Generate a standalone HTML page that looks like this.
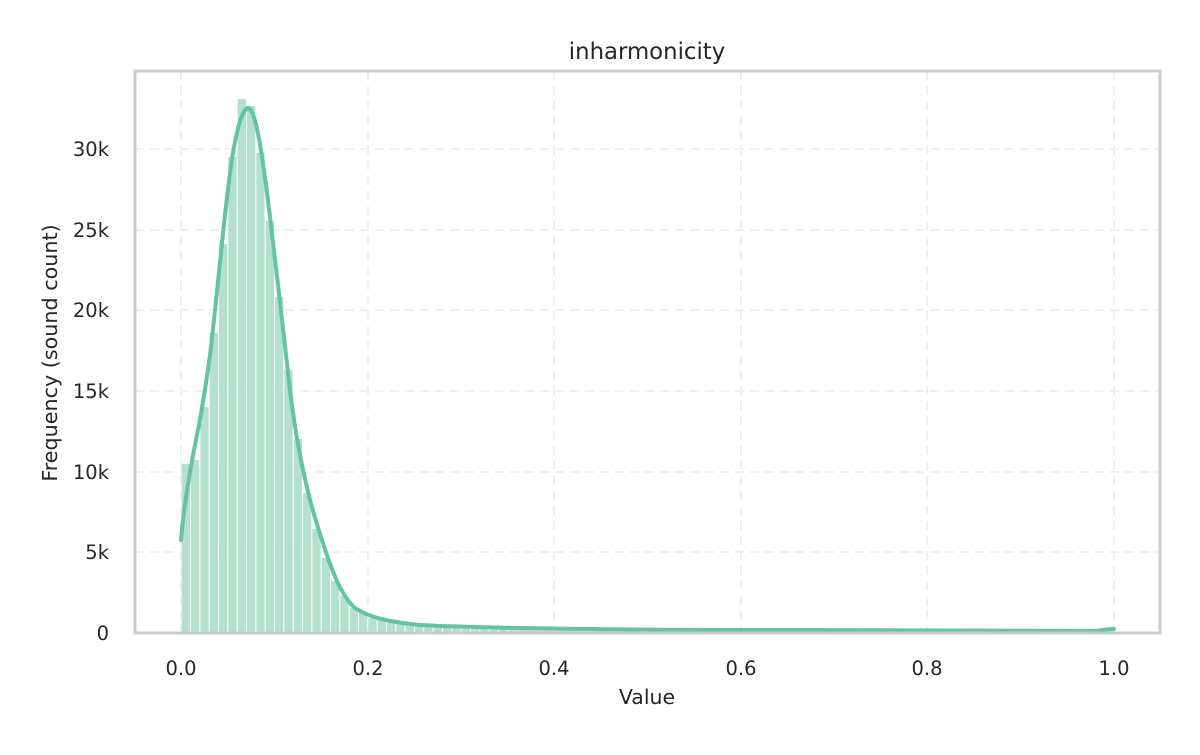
<!DOCTYPE html>
<html><head><meta charset="utf-8"><style>
body{margin:0;background:#fff;}
text{font-family:"DejaVu Sans","Liberation Sans",sans-serif;fill:#262626;}
</style></head><body>
<svg width="1200" height="750" xmlns="http://www.w3.org/2000/svg">
<rect width="1200" height="750" fill="#fff"/>
<g stroke="#ebebeb" stroke-width="2" stroke-dasharray="9,6" opacity="0.7">
<line x1="181" y1="71" x2="181" y2="633"/><line x1="368" y1="71" x2="368" y2="633"/><line x1="554" y1="71" x2="554" y2="633"/><line x1="741" y1="71" x2="741" y2="633"/><line x1="927" y1="71" x2="927" y2="633"/><line x1="1114" y1="71" x2="1114" y2="633"/>
<line x1="135" y1="552" x2="1160" y2="552"/><line x1="135" y1="472" x2="1160" y2="472"/><line x1="135" y1="391" x2="1160" y2="391"/><line x1="135" y1="310" x2="1160" y2="310"/><line x1="135" y1="230" x2="1160" y2="230"/><line x1="135" y1="149" x2="1160" y2="149"/>
</g>
<g fill="#b3e0cf">
<rect x="181.7" y="464" width="8.3" height="169"/>
<rect x="191.0" y="460" width="8.3" height="173"/>
<rect x="200.3" y="407" width="8.3" height="226"/>
<rect x="209.7" y="333" width="8.3" height="300"/>
<rect x="219.0" y="244" width="8.3" height="389"/>
<rect x="228.3" y="157" width="8.3" height="476"/>
<rect x="237.7" y="99" width="8.3" height="534"/>
<rect x="247.0" y="106" width="8.3" height="527"/>
<rect x="256.3" y="153" width="8.3" height="480"/>
<rect x="265.7" y="221" width="8.3" height="412"/>
<rect x="275.0" y="297" width="8.3" height="336"/>
<rect x="284.3" y="370" width="8.3" height="263"/>
<rect x="293.7" y="439" width="8.3" height="194"/>
<rect x="303.0" y="493" width="8.3" height="140"/>
<rect x="312.3" y="529" width="8.3" height="104"/>
<rect x="321.7" y="558" width="8.3" height="75"/>
<rect x="331.0" y="581" width="8.3" height="52"/>
<rect x="340.3" y="596" width="8.3" height="37"/>
<rect x="349.7" y="608" width="8.3" height="25"/>
<rect x="359.0" y="613" width="8.3" height="20"/>
<rect x="368.3" y="618" width="8.3" height="15"/>
<rect x="377.7" y="620" width="8.3" height="13"/>
<rect x="387.0" y="622" width="8.3" height="11"/>
<rect x="396.3" y="623" width="8.3" height="10"/>
<rect x="405.7" y="624" width="8.3" height="9"/>
<rect x="415.0" y="625" width="8.3" height="8"/>
<rect x="424.3" y="626" width="8.3" height="7"/>
<rect x="433.7" y="626" width="8.3" height="7"/>
<rect x="443.0" y="627" width="8.3" height="6"/>
<rect x="452.3" y="627" width="8.3" height="6"/>
<rect x="461.7" y="628" width="8.3" height="5"/>
<rect x="471.0" y="628" width="8.3" height="5"/>
<rect x="480.3" y="628" width="8.3" height="5"/>
<rect x="489.7" y="629" width="8.3" height="4"/>
<rect x="499.0" y="629" width="8.3" height="4"/>
<rect x="508.3" y="629" width="8.3" height="4"/>
<rect x="517" y="630" width="597" height="3"/>
</g>
<path fill="none" stroke="#66c2a5" stroke-width="4" stroke-linejoin="round" stroke-linecap="round"
d="M181,540 C184,505 190,470 196,440 C201,415 206,385 210,355 C215,315 220,260 225,215 C230,170 236,120 246,109 C254,102 260,140 266,185 C272,230 282,320 290,390 C296,440 305,490 322,540 C330,565 340,595 355,608 C370,618 390,622 420,625 C480,628 600,630 800,630 C900,631 1000,631 1095,631 C1105,630 1105,629 1114,629"/>
<rect x="135" y="71" width="1025" height="562" fill="none" stroke="#cccccc" stroke-width="3"/>
<g font-size="19.5" text-anchor="middle">
<text x="181" y="675">0.0</text><text x="368" y="675">0.2</text><text x="554" y="675">0.4</text><text x="741" y="675">0.6</text><text x="927" y="675">0.8</text><text x="1114" y="675">1.0</text>
</g>
<g font-size="19.5" text-anchor="end">
<text x="109" y="640">0</text><text x="109" y="559">5k</text><text x="109" y="479">10k</text><text x="109" y="398">15k</text><text x="109" y="317">20k</text><text x="109" y="237">25k</text><text x="109" y="156">30k</text>
</g>
<text x="647" y="704" font-size="20.5" text-anchor="middle">Value</text>
<text x="57" y="353" font-size="20.7" text-anchor="middle" transform="rotate(-90 57 353)">Frequency (sound count)</text>
<text x="647" y="59" font-size="22.8" text-anchor="middle">inharmonicity</text>
</svg>
</body></html>
